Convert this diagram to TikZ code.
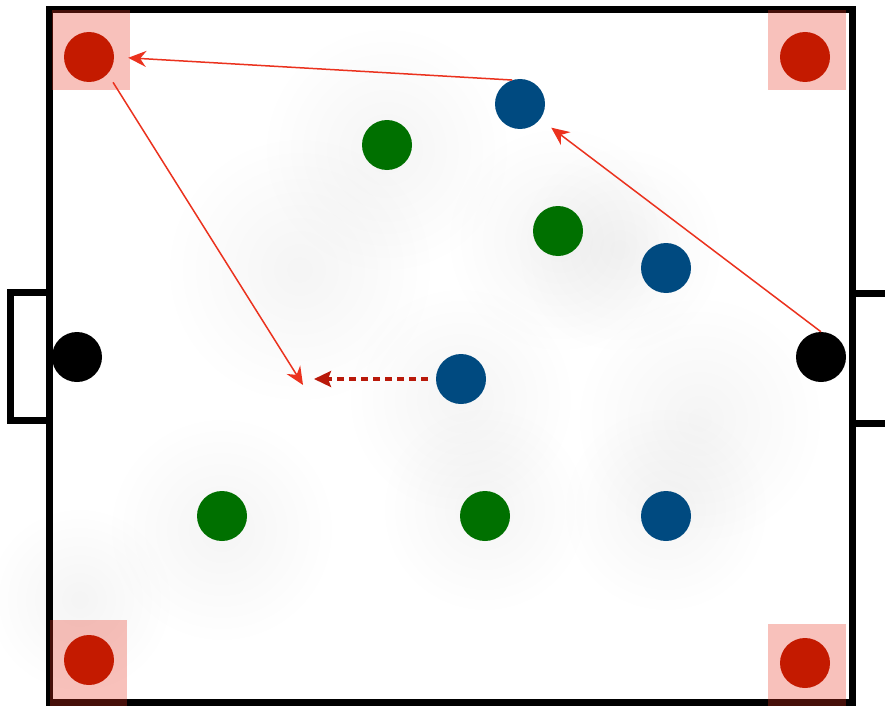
\documentclass[tikz,border=0pt]{standalone}
\usetikzlibrary{arrows.meta}
\definecolor{cornerred}{RGB}{232,50,30}
\definecolor{pred}{RGB}{196,26,0}
\definecolor{pgreen}{RGB}{0,112,0}
\definecolor{pblue}{RGB}{0,74,128}
\definecolor{arrred}{RGB}{235,50,30}
\definecolor{dashred}{RGB}{185,25,10}
\tikzset{
  player/.style={circle, minimum size=50pt, inner sep=0pt, draw=none},
  redp/.style={player, fill=pred},
  greenp/.style={player, fill=pgreen},
  bluep/.style={player, fill=pblue},
  blackp/.style={player, fill=black},
  cornerbox/.style={fill=cornerred, fill opacity=0.3, draw=none},
  fieldline/.style={line width=7pt, draw=black},
  pass/.style={draw=arrred, line width=1.5pt, -{Stealth[length=18pt,width=16pt,inset=6pt]}},
  run/.style={draw=dashred, line width=3.2pt, dash pattern=on 7pt off 5pt, -{Stealth[length=17pt,width=16pt,inset=3pt]}}
}
\begin{document}
\begin{tikzpicture}[x=1pt,y=-1pt]
\useasboundingbox (0,0) rectangle (885,706);
\fill[white] (0,0) rectangle (885,706);
% soft shadows
\foreach \cx/\cy/\rr in {387/150/120, 560/240/110, 222/530/110, 485/510/100, 666/510/100, 461/400/110, 620/250/100, 300/270/130, 80/600/90, 700/420/120}{
  \foreach \k in {1,...,10}{
    \fill[black, opacity=0.0045] (\cx,\cy) circle ({\rr*\k/10});
  }
}
% goals
\draw[fieldline] (49,292.5) -- (10,292.5) -- (10,420) -- (49,420);
\draw[fieldline] (852,293) -- (895,293) -- (895,423) -- (852,423);
% field
\draw[fieldline] (49.5,10) rectangle (852,702.5);
% corner boxes
\fill[cornerbox] (52,10) rectangle (130,90);
\fill[cornerbox] (768,10) rectangle (846,90);
\fill[cornerbox] (50,620) rectangle (127,706);
\fill[cornerbox] (768,624) rectangle (846,706);
% players
\node[redp] (r1) at (89,57) {};
\node[redp] (r2) at (805,57) {};
\node[redp] (r3) at (89,660) {};
\node[redp] (r4) at (805,663) {};
\node[greenp] (g1) at (387,145) {};
\node[greenp] (g2) at (558,231) {};
\node[greenp] (g3) at (222,516) {};
\node[greenp] (g4) at (485,516) {};
\node[bluep] (b1) at (520,104) {};
\node[bluep] (b2) at (666,268) {};
\node[bluep] (b3) at (461,379) {};
\node[bluep] (b4) at (666,516) {};
\node[blackp] (k1) at (77,357) {};
\node[blackp] (k2) at (821,357) {};
% free ends
\coordinate (runend) at (303,385);
\coordinate (dashend) at (314,379);
% arrows
\draw[pass, shorten >=14pt] (b1.108) -- (r1.east);
\draw[pass, shorten <=10pt] (r1.-42) -- (runend);
\draw[pass, shorten >=14pt] (k2.north) -- (b1);
\draw[run, shorten <=8pt] (b3.west) -- (dashend);
\end{tikzpicture}
\end{document}
